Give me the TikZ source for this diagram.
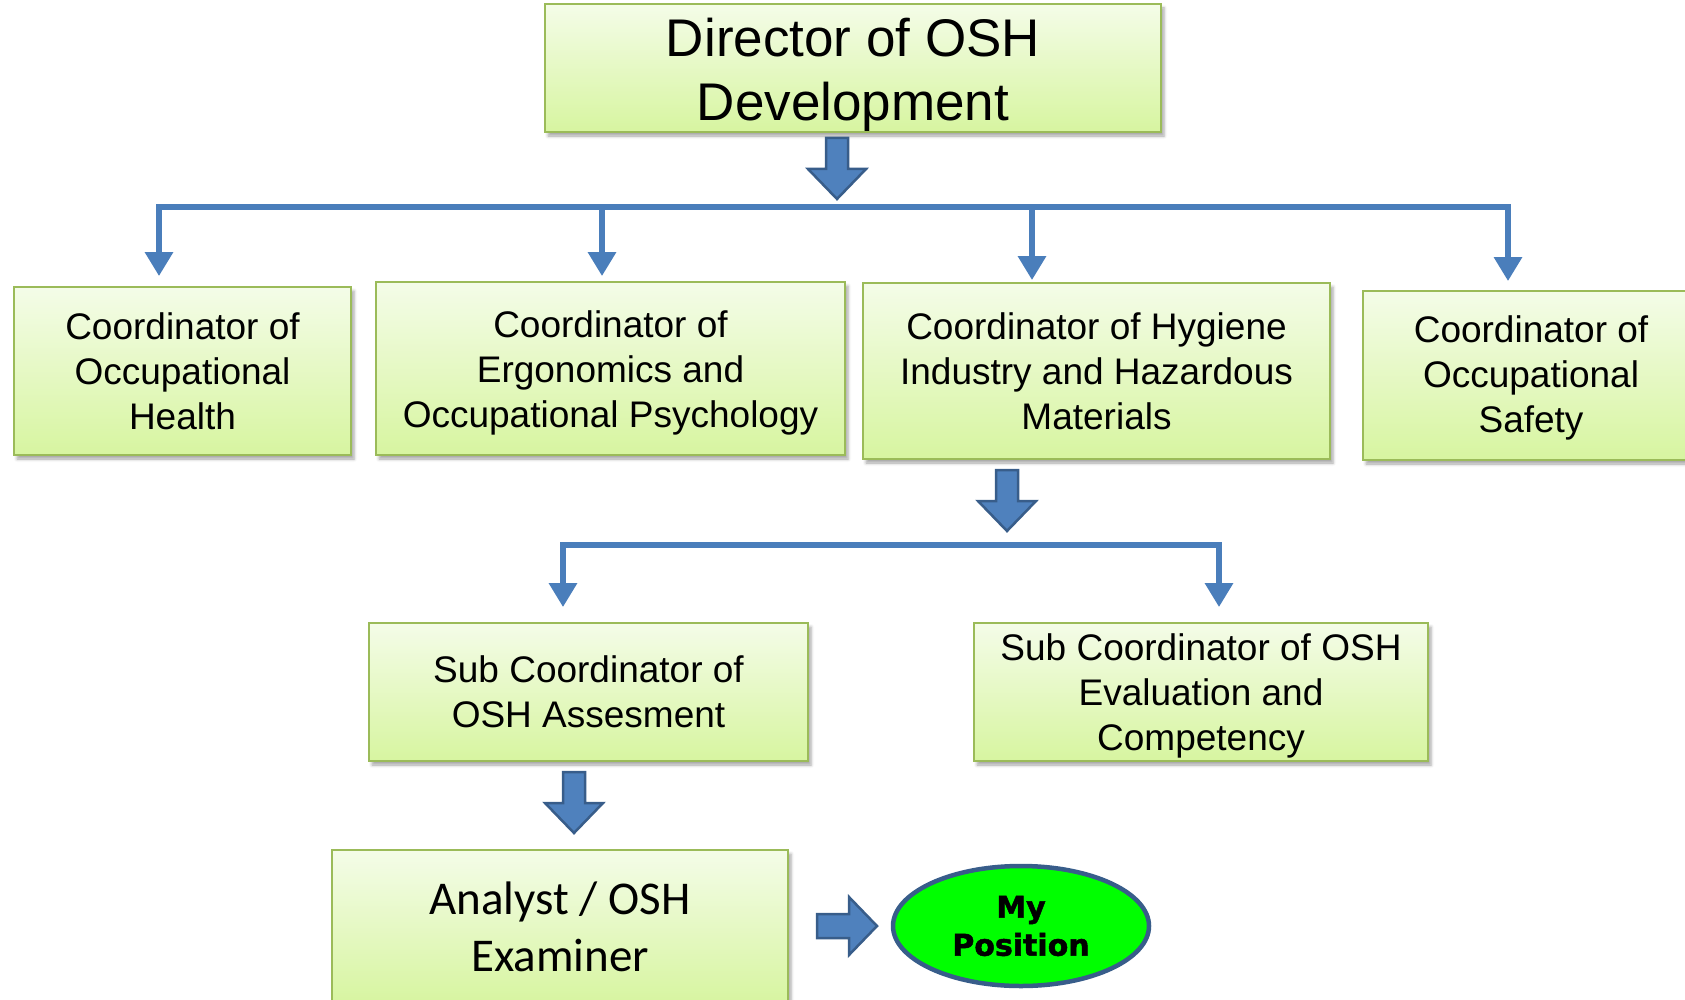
\documentclass[tikz,border=0pt]{standalone}
\usepackage{fontspec}
\setmainfont{Liberation Sans}
\newfontfamily\calfont{Carlito}
\newfontfamily\heavyfont{DejaVu Sans Bold}[FakeBold=1.6]
\usetikzlibrary{shadows.blur,calc,arrows.meta,shapes.geometric}
\definecolor{boxborder}{HTML}{9BBB59}
\definecolor{boxtop}{HTML}{F4FCE8}
\definecolor{boxbot}{HTML}{D7F5A0}
\definecolor{linkblue}{HTML}{4A7EBB}
\definecolor{blockfill}{HTML}{4F81BD}
\definecolor{blockdraw}{HTML}{385D8A}
\definecolor{posgreen}{HTML}{00FF00}
\newcommand{\shiftlines}[2]{\raisebox{#1}[\height][\depth]{\begin{tabular}{@{}c@{}}#2\end{tabular}}}
\begin{document}
\begin{tikzpicture}[x=1pt,y=-1pt,
  orgbox/.style={draw=boxborder, line width=1.8pt, top color=boxtop, bottom color=boxbot,
    align=center, inner sep=0pt,
    blur shadow={shadow xshift=3pt, shadow yshift=-4pt, shadow blur radius=3pt, shadow opacity=35}},
  midtext/.style={font=\fontsize{37}{45}\selectfont},
  bus/.style={draw=linkblue, line width=6.5pt, line cap=rect},
  drop/.style={draw=linkblue, line width=6.5pt, -{Triangle[width=27pt,length=24pt]}},
  blockarrow/.style={fill=blockfill, draw=blockdraw, line width=2.5pt, line join=miter},
  posnode/.style={ellipse, draw=blockdraw, line width=4.5pt, fill=posgreen, align=center,
    inner sep=0pt, font=\heavyfont\fontsize{30}{38}\selectfont}
]
\useasboundingbox (0,0) rectangle (1685,1000);
\clip (0,0) rectangle (1685,1000);

% ---- boxes ----
\node[orgbox, minimum width=616pt, minimum height=124pt, font=\fontsize{53}{64}\selectfont]
  (dir) at (853,68) {\shiftlines{-8pt}{Director of OSH\\Development}};

\node[orgbox, midtext, minimum width=337pt, minimum height=168pt] (oh) at (182.5,371)
  {Coordinator of\\Occupational\\Health};
\node[orgbox, midtext, minimum width=469pt, minimum height=173pt] (erg) at (610.5,368.5)
  {\shiftlines{-4.5pt}{Coordinator of\\Ergonomics and\\Occupational Psychology}};
\node[orgbox, midtext, minimum width=467pt, minimum height=176pt] (hyg) at (1096.5,371)
  {Coordinator of Hygiene\\Industry and Hazardous\\Materials};
\node[orgbox, midtext, minimum width=336pt, minimum height=169pt] (saf) at (1531,375.5)
  {\shiftlines{-3pt}{Coordinator of\\Occupational\\Safety}};

\node[orgbox, midtext, minimum width=439pt, minimum height=138pt] (ass) at (588.5,692)
  {Sub Coordinator of\\OSH Assesment};
\node[orgbox, midtext, minimum width=454pt, minimum height=138pt] (eva) at (1201,692)
  {\shiftlines{-4.5pt}{Sub Coordinator of OSH\\Evaluation and\\Competency}};

\node[orgbox, minimum width=456pt, minimum height=154pt, font=\calfont\fontsize{47}{57}\selectfont]
  (ana) at (560,927) {Analyst / OSH\\Examiner};

\node[posnode, minimum width=256pt, minimum height=120pt] (pos) at (1021,926) {My\\Position};

% ---- first bus ----
\coordinate (b1) at (159,207);
\coordinate (b2) at (602,207);
\coordinate (b3) at (1032,207);
\coordinate (b4) at (1508,207);
\draw[bus] (b1) -- (b4);
\draw[drop, shorten >=10pt] (b1) -- (b1 |- oh.north);
\draw[drop, shorten >=5pt] (b2) -- (b2 |- erg.north);
\draw[drop, shorten >=2pt] (b3) -- (b3 |- hyg.north);
\draw[drop, shorten >=9pt] (b4) -- (b4 |- saf.north);

% ---- second bus ----
\coordinate (c1) at (563,545);
\coordinate (c2) at (1219,545);
\draw[bus] (c1) -- (c2);
\draw[drop, shorten >=15pt] (c1) -- (c1 |- ass.north);
\draw[drop, shorten >=15pt] (c2) -- (c2 |- eva.north);

% ---- block arrows ----
\draw[blockarrow] (826,138) -- (848,138) -- (848,169) -- (866,169) -- (837,199)
  -- (808,169) -- (826,169) -- cycle;
\draw[blockarrow] (996,470) -- (1018,470) -- (1018,501) -- (1036,501) -- (1007,531)
  -- (978,501) -- (996,501) -- cycle;
\draw[blockarrow] (563,772) -- (585,772) -- (585,803) -- (603,803) -- (574,833)
  -- (545,803) -- (563,803) -- cycle;
\draw[blockarrow] (817,914) -- (849,914) -- (849,897) -- (877,926) -- (849,955)
  -- (849,938) -- (817,938) -- cycle;
\end{tikzpicture}
\end{document}
